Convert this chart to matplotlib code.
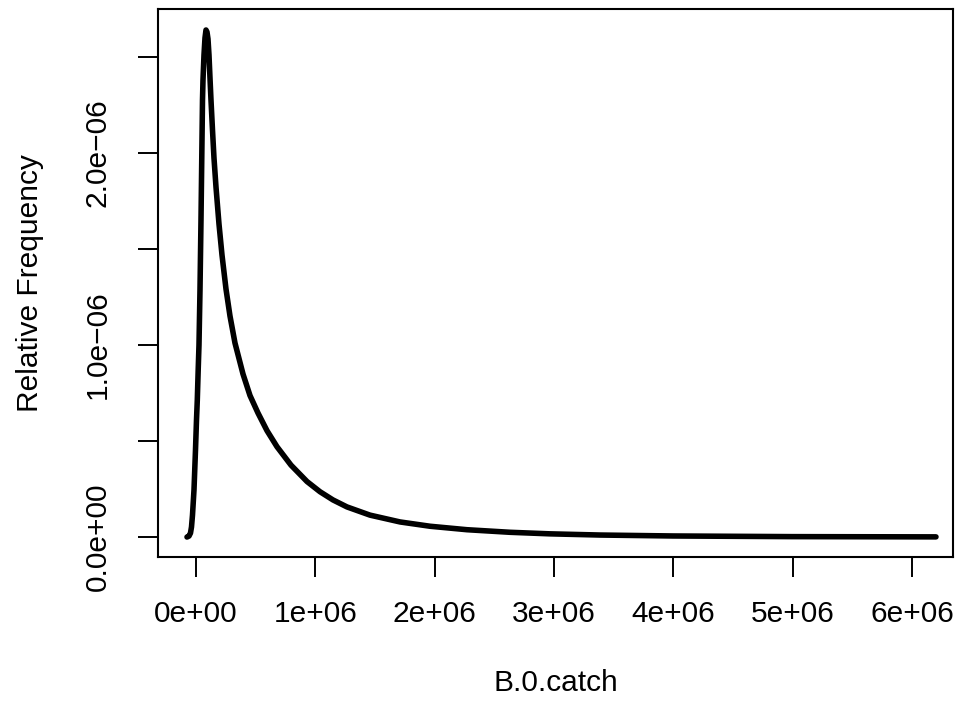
import matplotlib
matplotlib.use("Agg")
import matplotlib.pyplot as plt

plt.rcParams['font.family'] = ['Liberation Sans', 'DejaVu Sans']

# B.0.catch values (units of 1e6) and density (units of 1e-6)
x_vals = [-0.0754, -0.0587, -0.0461, -0.0377, -0.0293, -0.0168, -0.0042, 0.0042, 0.0109,
          0.0184, 0.0251, 0.0335, 0.0419, 0.0503, 0.0545, 0.0587, 0.0670, 0.0754, 0.0838,
          0.0922, 0.1006, 0.1089, 0.1173, 0.1257, 0.1383, 0.1508, 0.1676, 0.1927, 0.2179,
          0.2514, 0.2849, 0.3268, 0.3939, 0.4525, 0.5196, 0.5950, 0.6788, 0.7961, 0.9302,
          1.0391, 1.1481, 1.2654, 1.4581, 1.7095, 1.9610, 2.2710, 2.6313, 2.9666, 3.3856,
          3.9973, 4.9946, 6.2013]
y_vals = [0.0000, 0.0052, 0.0208, 0.0521, 0.1146, 0.2448, 0.4531, 0.6094, 0.7135,
          0.8698, 1.0000, 1.2865, 1.6510, 2.0677, 2.2760, 2.3802, 2.5104, 2.5990, 2.6406,
          2.6302, 2.5938, 2.5104, 2.3906, 2.2760, 2.1198, 1.9740, 1.8229, 1.6302, 1.4688,
          1.2917, 1.1510, 1.0104, 0.8490, 0.7370, 0.6458, 0.5540, 0.4703, 0.3745, 0.2891,
          0.2360, 0.1932, 0.1568, 0.1141, 0.0786, 0.0562, 0.0381, 0.0247, 0.0166, 0.0104,
          0.0055, 0.0021, 0.0008]

x_ticks = [0, 1, 2, 3, 4, 5, 6]
x_tick_labels = ["0e+00", "1e+06", "2e+06", "3e+06", "4e+06", "5e+06", "6e+06"]
y_ticks = [0.0, 0.5, 1.0, 1.5, 2.0, 2.5]
y_tick_labels = ["0.0e+00", "", "1.0e\u221206", "", "2.0e\u221206", ""]

fig = plt.figure(figsize=(9.64, 7.07), dpi=100)
ax = fig.add_axes([158/964, 150/707, 795/964, 548/707])

xs = [v * 1e6 for v in x_vals]
ys = [v * 1e-6 for v in y_vals]
ax.plot(xs, ys, color='black', lw=4, solid_capstyle='round', solid_joinstyle='round')

ax.set_xlim(-0.3184e6, 6.344e6)
ax.set_ylim(-0.104e-6, 2.75e-6)

FS = 21.5
ax.set_xticks([t * 1e6 for t in x_ticks])
ax.set_xticklabels(x_tick_labels, fontsize=FS)
ax.set_yticks([t * 1e-6 for t in y_ticks])
ax.set_yticklabels(y_tick_labels, fontsize=FS, rotation=90, va='center')

ax.tick_params(axis='both', direction='out', length=14.4, width=1.4, color='black')
ax.tick_params(axis='x', pad=16.5)
ax.tick_params(axis='y', pad=19)

for s in ax.spines.values():
    s.set_linewidth(1.5)

ax.set_xlabel("B.0.catch", fontsize=FS, va='center')
ax.set_ylabel("Relative Frequency", fontsize=FS, va='center')
ax.xaxis.set_label_coords(0.5, (557 - 683) / 548)
ax.yaxis.set_label_coords((30 - 158) / 795, 0.5)

fig.savefig("out.png", dpi=100)
